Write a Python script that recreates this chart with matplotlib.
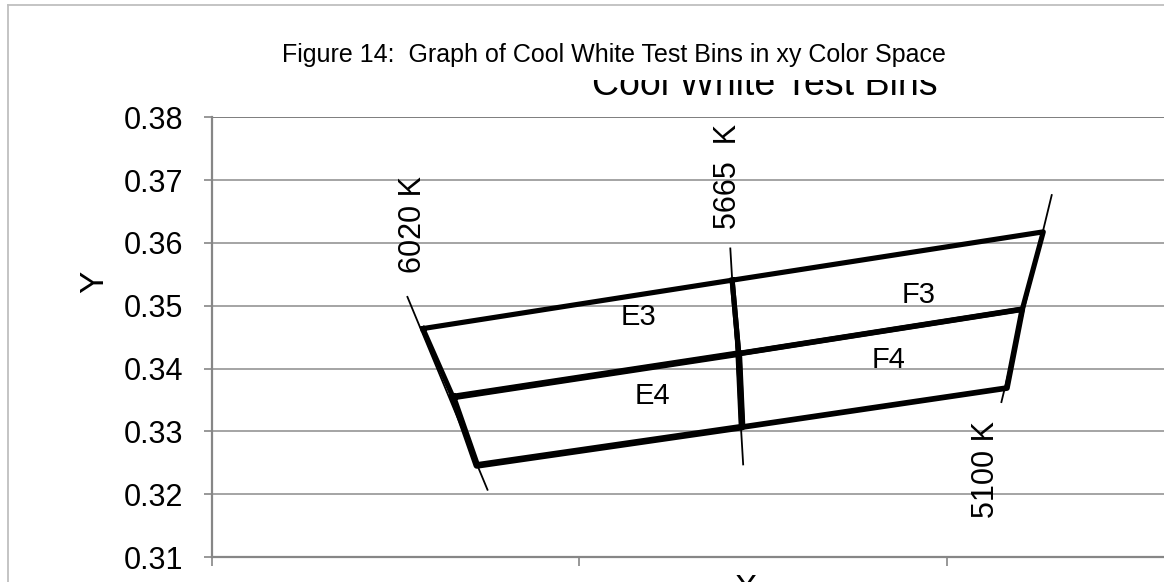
import matplotlib.pyplot as plt
from matplotlib.lines import Line2D
from matplotlib.patches import Rectangle

plt.rcParams['font.family'] = ['Liberation Sans', 'DejaVu Sans']

# corners of each test bin (x, y chromaticity)
e3_x = [0.31574, 0.32416, 0.32434, 0.31656]
e3_y = [0.34637, 0.35407, 0.34239, 0.33548]
e4_x = [0.31656, 0.32434, 0.32443, 0.31721]
e4_y = [0.33548, 0.34239, 0.33070, 0.32460]
f3_x = [0.32416, 0.33263, 0.33206, 0.32434]
f3_y = [0.35407, 0.36176, 0.34945, 0.34239]
f4_x = [0.32434, 0.33206, 0.33164, 0.32443]
f4_y = [0.34239, 0.34945, 0.33691, 0.33070]

bin_names = ['E3', 'E4', 'F3', 'F4']
bin_label_x = [0.32161, 0.32198, 0.32925, 0.32843]
bin_label_y = [0.34818, 0.33558, 0.35168, 0.34133]

# isotherm lines
cct_names = ['6020 K', '5665  K', '5100 K']
cct_x = [[0.31532, 0.31750], [0.32411, 0.32446], [0.33286, 0.33149]]
cct_y = [[0.35141, 0.32073], [0.35912, 0.32476], [0.36761, 0.33468]]
cct_label_x = [0.31548, 0.32406, 0.33106]
cct_label_y = [0.36291, 0.37050, 0.32396]

y_ticks = [0.31, 0.32, 0.33, 0.34, 0.35, 0.36, 0.37, 0.38]
x_ticks = [0.31, 0.32, 0.33, 0.34]

W, H = 1164, 582
fig = plt.figure(figsize=(W / 100, H / 100), dpi=100)


def fx(px):
    return px / W


def fy(py):
    return 1 - py / H


# plot area runs past the right edge of the picture (cropped chart)
ax = fig.add_axes([fx(212), fy(557.2), (1314 - 212) / W, (557.2 - 117.2) / H])
ax.set_xlim(0.31, 0.34)
ax.set_ylim(0.31, 0.38)

grid_c = '#8c8c8c'
for yt in y_ticks[1:]:
    ax.axhline(yt, color='#5a5a5a' if yt == 0.38 else grid_c, lw=1.1, zorder=0)

for s in ['top', 'right']:
    ax.spines[s].set_visible(False)
for s in ['left', 'bottom']:
    ax.spines[s].set_color('#868686')
    ax.spines[s].set_linewidth(1.6)

ax.set_yticks(y_ticks)
ax.set_yticklabels([f'{v:.2f}' for v in y_ticks])
ax.set_xticks(x_ticks)
ax.tick_params(axis='y', direction='out', length=6, width=1.2, color='#868686',
               labelsize=22, pad=15)
ax.tick_params(axis='x', direction='out', length=6.5, width=1.2, color='#868686',
               labelbottom=False)

# thin isotherm lines
for xs, ys in zip(cct_x, cct_y):
    ax.plot(xs, ys, color='black', lw=1.3, zorder=2)

# bin outlines
for xs, ys, lw in [(e3_x, e3_y, 3.7), (f3_x, f3_y, 3.7), (e4_x, e4_y, 4.8), (f4_x, f4_y, 4.1)]:
    ax.plot(xs + xs[:1], ys + ys[:1], color='black', lw=lw, zorder=3)

for name, x, y in zip(bin_names, bin_label_x, bin_label_y):
    ax.text(x, y, name, fontsize=21, ha='center', va='center', zorder=4)

for name, x, y in zip(cct_names, cct_label_x, cct_label_y):
    ax.text(x, y, name, fontsize=22, rotation=90, ha='center', va='center',
            zorder=4, clip_on=False)

# axis titles
fig.text(fx(95), fy(282), 'Y', fontsize=24, rotation=90, ha='center', va='center')
fig.text(fx(745), fy(574), 'X', fontsize=24, ha='center', va='top')

# chart title, its top half is hidden under the caption band
fig.text(fx(765), fy(95), 'Cool White Test Bins', fontsize=27, ha='center',
         va='baseline', zorder=2)
fig.patches.append(Rectangle((fx(9.5), fy(79.5)), 1, fy(5.5) - fy(79.5),
                             transform=fig.transFigure, facecolor='white',
                             edgecolor='none', zorder=2.5))
fig.text(fx(282), fy(61.7), 'Figure 14:  Graph of Cool White Test Bins in xy Color Space',
         fontsize=18, ha='left', va='baseline', zorder=3)

# outer chart frame
fig.lines.append(Line2D([fx(8.3), 1], [fy(4.7), fy(4.7)], transform=fig.transFigure,
                        color='#bfbfbf', lw=1.3, zorder=3))
fig.lines.append(Line2D([fx(8.3), fx(8.3)], [fy(4.7), 0], transform=fig.transFigure,
                        color='#bfbfbf', lw=1.3, zorder=3))

fig.savefig('out.png', dpi=100)
